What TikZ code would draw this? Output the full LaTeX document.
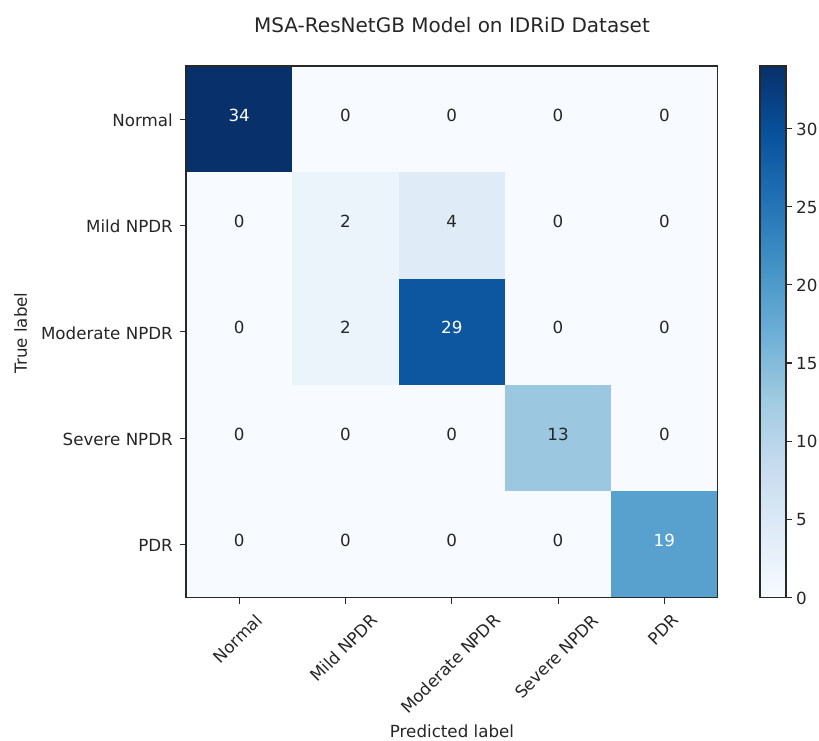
\documentclass[tikz,border=0pt]{standalone}
\usepackage{fontspec}
\setmainfont{DejaVu Sans}
\definecolor{v0}{RGB}{247,251,255}
\definecolor{v2}{RGB}{235,243,251}
\definecolor{v4}{RGB}{223,236,247}
\definecolor{v13}{RGB}{155,200,224}
\definecolor{v19}{RGB}{88,161,207}
\definecolor{v29}{RGB}{12,87,160}
\definecolor{v34}{RGB}{8,48,107}
\definecolor{bl0}{RGB}{247,251,255}
\definecolor{bl1}{RGB}{222,235,247}
\definecolor{bl2}{RGB}{198,219,239}
\definecolor{bl3}{RGB}{158,202,225}
\definecolor{bl4}{RGB}{107,174,214}
\definecolor{bl5}{RGB}{66,146,198}
\definecolor{bl6}{RGB}{33,113,181}
\definecolor{bl7}{RGB}{8,81,156}
\definecolor{bl8}{RGB}{8,48,107}
\definecolor{spine}{RGB}{40,40,40}
\newcommand\lblfont{\fontsize{16.7}{20}\selectfont}
\newdimen\lblw
\begin{document}
\begin{tikzpicture}[x=1pt,y=-1pt,
  lbl/.style={font=\lblfont, inner sep=0pt, text=black!85},
  num/.style={lbl, anchor=base},
  tickmark/.style={line width=1.1pt, spine},
  frame/.style={line width=1.2pt, spine}]
\useasboundingbox (0,0) rectangle (819,740);
% title
\node[anchor=base, inner sep=0pt, font=\fontsize{20}{24}\selectfont, text=black!85] (title) at (452,32) {MSA-ResNetGB Model on IDRiD Dataset};
% cells
\foreach \row [count=\i from 0] in {{34,0,0,0,0},{0,2,4,0,0},{0,2,29,0,0},{0,0,0,13,0},{0,0,0,0,19}}{
  \foreach \v [count=\j from 0] in \row {
    \fill[v\v] ({186+\j*106.3},{66+\i*106.3}) rectangle ++(106.6,106.6);
  }
}
\foreach \row [count=\i from 0] in {{34,0,0,0,0},{0,2,4,0,0},{0,2,29,0,0},{0,0,0,13,0},{0,0,0,0,19}}{
  \foreach \v [count=\j from 0] in \row {
    \ifnum\v>17 \def\tc{white}\else\def\tc{black!85}\fi
    \node[num, text=\tc] (n\i\j) at ({186+(\j+0.5)*106.3},{66+(\i+0.5)*106.3+2}) {\v};
  }
}
\draw[frame] (186,66) rectangle (717.5,597.5);
% y ticks and labels
\foreach \t [count=\i from 0] in {Normal,Mild NPDR,Moderate NPDR,Severe NPDR,PDR}{
  \draw[tickmark] (180,{66+(\i+0.5)*106.3}) -- (186,{66+(\i+0.5)*106.3});
  \node[lbl, anchor=base east] (y\i) at (173,{66+(\i+0.5)*106.3+7.5}) {\t};
}
% x ticks and labels
\foreach \t/\tw [count=\j from 0] in {Normal/60.7,Mild NPDR/86.6,Moderate NPDR/131.8,Severe NPDR/110.5,PDR/34.5}{
  \draw[tickmark] ({186+(\j+0.5)*106.3},597.5) -- ({186+(\j+0.5)*106.3},603.5);
  \pgfmathsetmacro\ly{613+(\tw+16.2)*0.35355}
  \node[lbl, rotate=45, text height=12.3pt, text depth=3.9pt] (x\j) at ({186+(\j+0.5)*106.3},\ly) {\t};
}
% axis labels
\node[lbl, anchor=base, rotate=90] (ylab) at (27,333) {True label};
\node[lbl, anchor=base] (xlab) at (452,737) {Predicted label};
% colorbar
\foreach \k/\a/\b in {0/bl0/bl1,1/bl1/bl2,2/bl2/bl3,3/bl3/bl4,4/bl4/bl5,5/bl5/bl6,6/bl6/bl7,7/bl7/bl8}{
  \shade[bottom color=\a, top color=\b] (760,{597.5-\k*66.4375+0.3}) rectangle (786,{597.5-(\k+1)*66.4375-0.3});
}
\draw[frame] (760,66) rectangle (786,597.5);
\foreach \t in {0,5,...,30}{
  \draw[tickmark] (786,{597.5-\t*15.632}) -- (792,{597.5-\t*15.632});
  \node[lbl, anchor=base west] (cb\t) at (796,{597.5-\t*15.632+6.5}) {\t};
}
\end{tikzpicture}
\end{document}
